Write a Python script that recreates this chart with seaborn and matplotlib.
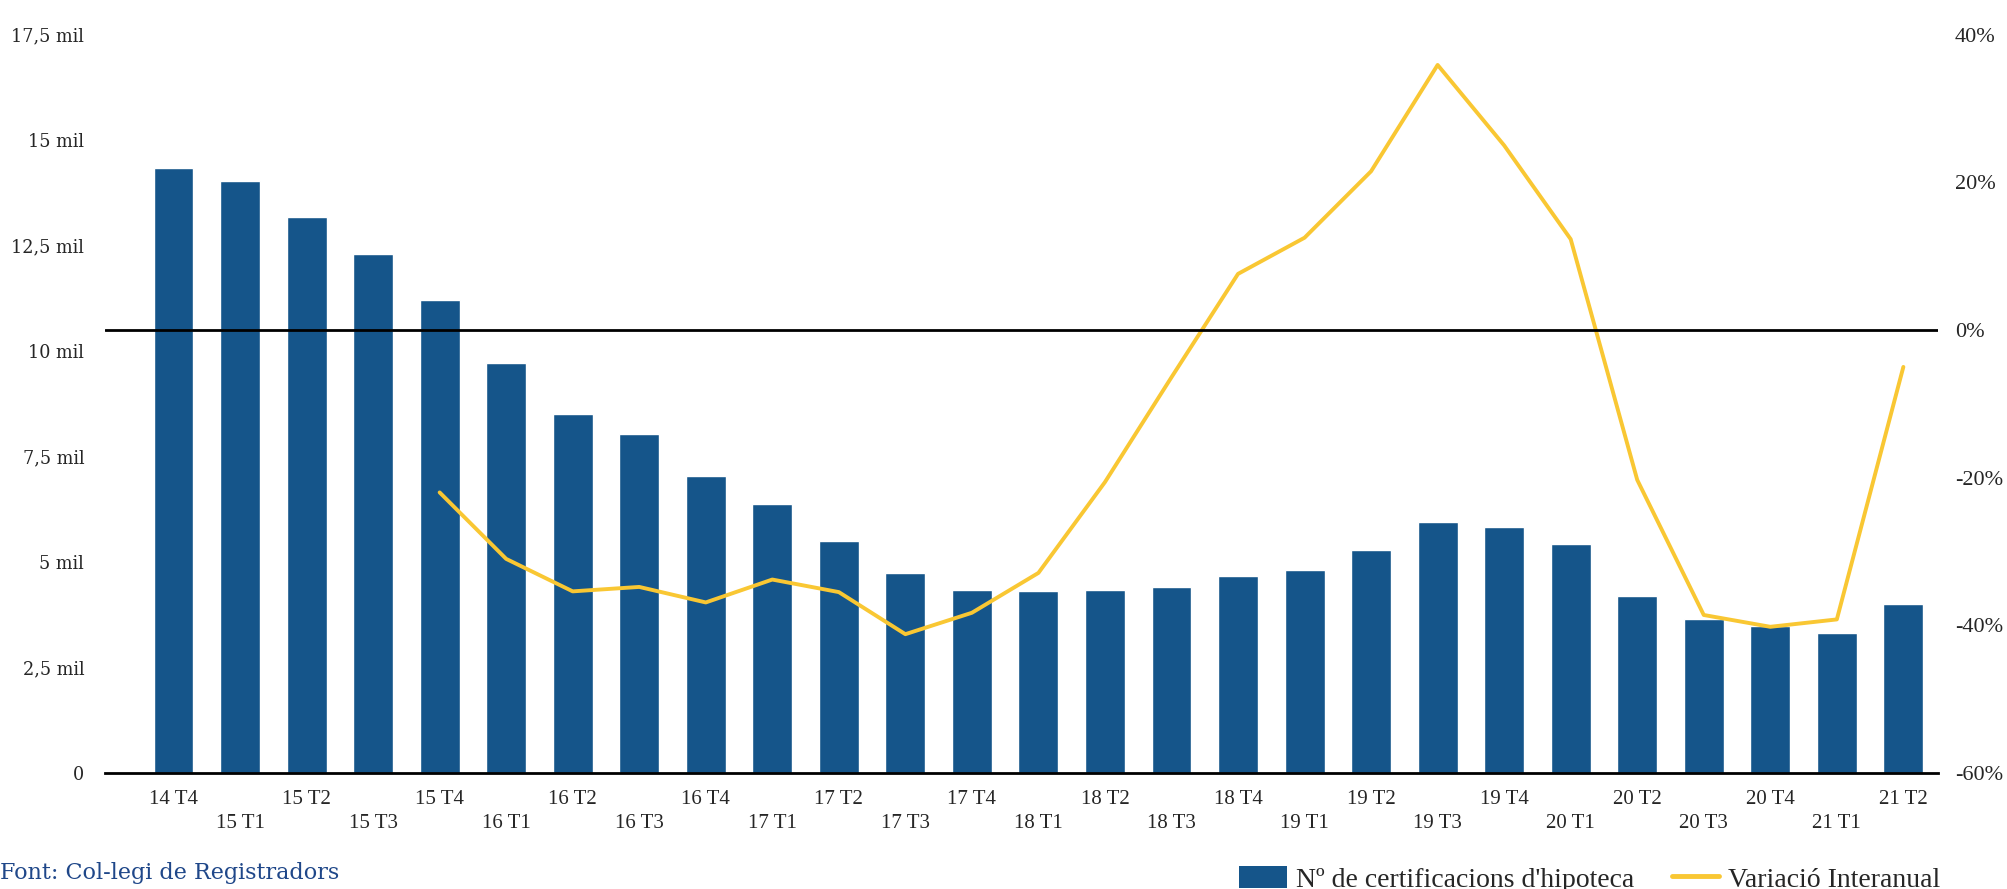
import matplotlib
matplotlib.use('Agg')
import matplotlib.pyplot as plt
import numpy as np
import pandas as pd
import seaborn as sns
from matplotlib.patches import Patch
from matplotlib.lines import Line2D

# Data
quarters = ['14 T4', '15 T1', '15 T2', '15 T3', '15 T4', '16 T1', '16 T2', '16 T3', '16 T4',
            '17 T1', '17 T2', '17 T3', '17 T4', '18 T1', '18 T2', '18 T3', '18 T4',
            '19 T1', '19 T2', '19 T3', '19 T4', '20 T1', '20 T2', '20 T3', '20 T4',
            '21 T1', '21 T2']
certificacions = [14350, 14040, 13190, 12310, 11220, 9710, 8520, 8040, 7040,
                  6370, 5490, 4730, 4340, 4310, 4340, 4400, 4670,
                  4820, 5280, 5940, 5820, 5430, 4190, 3640, 3490,
                  3310, 4000]
variacio = [np.nan, np.nan, np.nan, np.nan, -22.0, -31.0, -35.4, -34.8, -36.9,
            -33.8, -35.5, -41.2, -38.3, -32.9, -20.6, -6.4, 7.6,
            12.5, 21.5, 35.9, 25.0, 12.3, -20.3, -38.6, -40.2,
            -39.2, -5.0]

left_ticks = [0, 2500, 5000, 7500, 10000, 12500, 15000, 17500]
left_labels = ['0', '2,5 mil', '5 mil', '7,5 mil', '10 mil', '12,5 mil', '15 mil', '17,5 mil']
right_ticks = [-60, -40, -20, 0, 20, 40]

bar_color = '#15558a'
line_color = '#f9c733'

df = pd.DataFrame({'trimestre': quarters, 'certificacions': certificacions, 'variacio': variacio})
df['pos'] = np.arange(len(df))

sns.set_style('white')
plt.rcParams['font.family'] = ['Liberation Serif', 'DejaVu Serif']

fig = plt.figure(figsize=(20.07, 8.89), dpi=100)
ax = fig.add_axes([0.0523, 0.1305, 0.9133, 0.8305])

sns.barplot(data=df, x='trimestre', y='certificacions', color=bar_color,
            width=0.6, saturation=1, ax=ax)
ax.set_xlim(-1.03, len(df) - 0.48)
ax.set_ylim(0, 17500)
ax.set_yticks(left_ticks)
ax.set_yticklabels(left_labels, fontsize=12.7, family='DejaVu Serif')
ax.set_xticks(df['pos'])
ax.set_xticklabels([q if i % 2 == 0 else '\n' + q for i, q in enumerate(quarters)],
                   fontsize=15, linespacing=1.4)
ax.tick_params(axis='y', length=0, pad=15)
ax.tick_params(axis='x', length=0, pad=12)
ax.set_xlabel('')
ax.set_ylabel('')
for s in ['top', 'right', 'left']:
    ax.spines[s].set_visible(False)
ax.spines['bottom'].set_color('black')
ax.spines['bottom'].set_linewidth(2)

ax2 = ax.twinx()
line_df = df.dropna(subset=['variacio'])
sns.lineplot(data=line_df, x='pos', y='variacio', color=line_color, linewidth=2.8, ax=ax2)
ax2.axhline(0, color='black', linewidth=2)
ax2.set_ylim(-60, 40)
ax2.set_yticks(right_ticks)
ax2.set_yticklabels([f'{v}%' for v in right_ticks], fontsize=16)
ax2.tick_params(axis='y', length=0, pad=12)
ax2.set_ylabel('')
ax2.set_xlabel('')
for s in ['top', 'right', 'left', 'bottom']:
    ax2.spines[s].set_visible(False)

handles = [Patch(facecolor=bar_color, edgecolor='none'),
           Line2D([0], [0], color=line_color, linewidth=3.5)]
fig.legend(handles, ["Nº de certificacions d'hipoteca", 'Variació Interanual'],
           loc='lower right', bbox_to_anchor=(0.9666, -0.004), ncol=2, frameon=False,
           borderpad=0, borderaxespad=0,
           fontsize=20, handlelength=1.7, handleheight=0.85, columnspacing=1.36,
           handletextpad=0.32)

fig.text(0.0, 0.006, 'Font: Col-legi de Registradors', color='#1f4789', fontsize=16,
         family='DejaVu Serif', ha='left', va='bottom')

fig.savefig('out.png', dpi=100)
